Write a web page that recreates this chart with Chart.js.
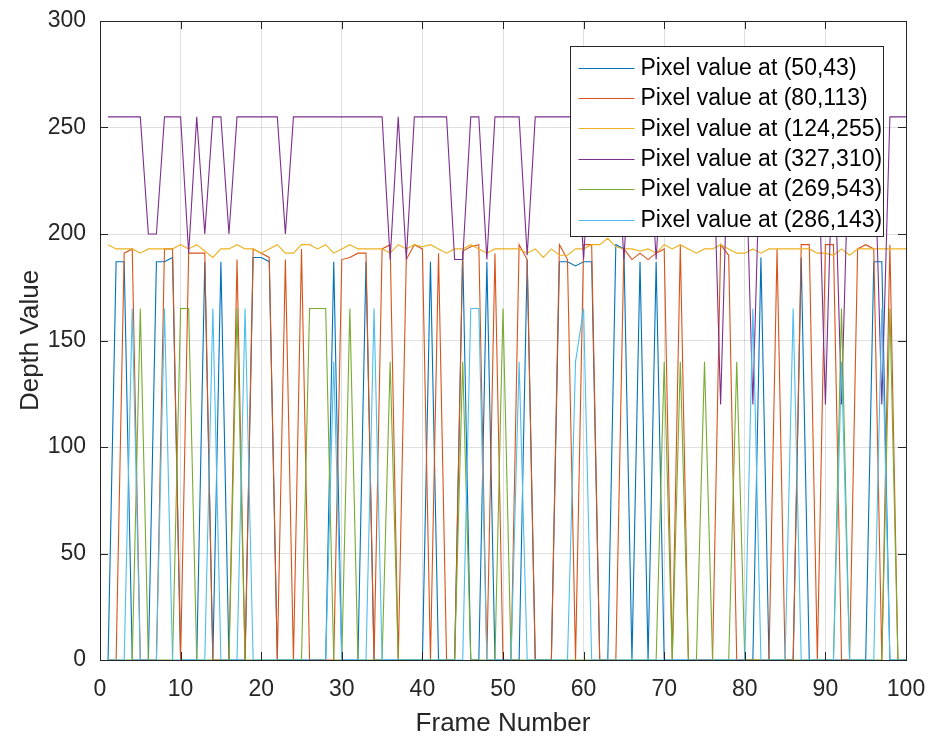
<!DOCTYPE html>
<html>
<head>
<meta charset="utf-8">
<script src="https://cdn.jsdelivr.net/npm/chart.js@4.4.1/dist/chart.umd.min.js"></script>
<style>
  html, body { margin: 0; padding: 0; background: #fff; }
  #wrap { width: 932px; height: 741px; }
</style>
</head>
<body>
<div id="wrap"><canvas id="myChart" width="932" height="741"></canvas></div>
<script>
// data --------------------------------------------------
const frames = [1,2,3,4,5,6,7,8,9,10,11,12,13,14,15,16,17,18,19,20,
  21,22,23,24,25,26,27,28,29,30,31,32,33,34,35,36,37,38,39,40,
  41,42,43,44,45,46,47,48,49,50,51,52,53,54,55,56,57,58,59,60,
  61,62,63,64,65,66,67,68,69,70,71,72,73,74,75,76,77,78,79,80,
  81,82,83,84,85,86,87,88,89,90,91,92,93,94,95,96,97,98,99,100];

const seriesNames = ['Pixel value at (50,43)', 'Pixel value at (80,113)', 'Pixel value at (124,255)',
  'Pixel value at (327,310)', 'Pixel value at (269,543)', 'Pixel value at (286,143)'];
const seriesColors = ['#0072BD', '#D95319', '#EDB120', '#7E2F8E', '#77AC30', '#4DBEEE'];

const px50_43 = [0,187,187,0,0,0,187,187,189,0,
  0,0,187,0,187,0,0,0,189,189,
  187,0,0,0,0,0,0,0,187,0,
  0,0,187,0,0,0,0,0,0,0,
  187,0,0,0,192,0,0,187,0,0,
  0,0,188,0,0,0,187,187,185,187,
  187,0,0,195,193,0,187,0,187,0,
  0,0,0,0,0,0,0,0,0,0,
  0,189,0,0,0,0,189,0,0,0,
  0,0,0,0,0,187,187,0,0,0];

const px80_113 = [0,0,191,193,0,0,0,193,193,0,
  191,191,191,0,0,0,188,0,193,191,
  189,0,188,0,193,0,0,0,0,188,
  189,191,191,0,193,195,0,188,195,193,
  0,191,0,0,192,194,195,0,191,0,
  0,195,188,0,0,0,195,188,0,195,
  195,0,0,0,193,188,191,188,191,193,
  0,195,0,0,0,0,195,190,0,0,
  0,0,0,193,0,0,195,195,0,195,
  195,0,0,193,195,193,0,195,0,0];

const px124_255 = [195,193,193,193,191,193,193,193,193,195,
  193,195,192,189,193,193,195,193,193,191,
  193,195,191,191,195,195,193,195,191,193,
  195,193,193,193,193,191,195,193,195,194,
  195,193,191,193,193,195,193,191,193,193,
  193,193,191,193,189,193,190,190,193,193,
  195,195,198,194,193,193,192,193,191,195,
  193,195,193,191,193,193,195,193,191,191,
  193,191,193,193,193,193,193,193,191,191,
  190,193,190,193,193,193,193,193,193,193];

const px327_310 = [255,255,255,255,255,200,200,255,255,255,
  191,255,200,255,255,200,255,255,255,255,
  255,255,200,255,255,255,255,255,255,255,
  255,255,255,255,255,188,255,188,255,255,
  255,255,255,188,188,255,255,188,255,255,
  255,255,190,255,255,255,255,255,255,188,
  255,255,255,255,188,255,255,255,188,255,
  255,255,255,255,255,255,120,255,255,255,
  120,255,255,255,255,255,255,255,255,120,
  255,120,255,255,255,255,120,255,255,255];

const px269_543 = [0,0,0,0,165,0,0,0,0,165,
  165,0,0,0,0,0,165,0,0,0,
  0,0,0,0,0,165,165,165,0,0,
  165,0,0,0,0,140,0,0,0,0,
  0,0,0,0,140,0,0,0,0,165,
  0,0,0,0,0,0,0,0,0,0,
  0,0,0,0,0,0,0,0,0,140,
  0,140,0,0,140,0,0,0,140,0,
  0,0,0,0,0,0,0,0,0,0,
  0,165,0,0,0,0,0,165,0,0];

const px286_143 = [0,0,0,165,0,0,0,165,0,0,
  0,0,0,165,0,0,0,165,0,0,
  0,0,0,0,0,0,0,0,140,0,
  0,0,0,165,0,0,0,0,0,0,
  0,0,0,0,0,165,165,0,0,0,
  0,140,0,0,0,0,0,0,140,165,
  0,0,0,0,0,0,0,0,0,0,
  0,0,0,0,0,0,0,0,0,0,
  165,0,0,0,0,165,0,0,0,0,
  0,140,0,0,0,0,165,0,0,0];

const xTicks = [0, 10, 20, 30, 40, 50, 60, 70, 80, 90, 100];
const yTicks = [0, 50, 100, 150, 200, 250, 300];

const allSeries = [px50_43, px80_113, px124_255, px327_310, px269_543, px286_143];

// style -------------------------------------------------
const FONT = '"Liberation Sans", Arial, Helvetica, sans-serif';
const INK = '#262626';

// inward ticks + axes box, like matlab's box on
const boxPlugin = {
  id: 'box',
  afterDatasetsDraw(chart) {
    const ctx = chart.ctx;
    const a = chart.chartArea;
    const xs = chart.scales.x, ys = chart.scales.y;
    const tl = 8;
    ctx.save();
    ctx.strokeStyle = INK;
    ctx.lineWidth = 1;
    ctx.beginPath();
    xTicks.forEach(v => {
      const p = Math.round(xs.getPixelForValue(v)) + 0.5;
      ctx.moveTo(p, a.bottom); ctx.lineTo(p, a.bottom - tl);
      ctx.moveTo(p, a.top); ctx.lineTo(p, a.top + tl);
    });
    yTicks.forEach(v => {
      const p = Math.round(ys.getPixelForValue(v)) + 0.5;
      ctx.moveTo(a.left, p); ctx.lineTo(a.left + tl, p);
      ctx.moveTo(a.right, p); ctx.lineTo(a.right - tl, p);
    });
    ctx.stroke();
    ctx.strokeRect(Math.round(a.left) + 0.5, Math.round(a.top) + 0.5,
      Math.round(a.right - a.left), Math.round(a.bottom - a.top));

    // legend box sits over the lines
    const lw = 313, lh = 190;
    const lx = Math.round(a.right) - 23 - lw + 0.5;
    const ly = Math.round(a.top) + 25 + 0.5;
    ctx.fillStyle = '#fff';
    ctx.fillRect(lx, ly, lw, lh);
    ctx.strokeStyle = INK;
    ctx.strokeRect(lx, ly, lw, lh);
    ctx.font = '23px ' + FONT;
    ctx.textBaseline = 'middle';
    ctx.textAlign = 'left';
    chart.data.datasets.forEach((ds, i) => {
      const ry = ly + 21 + i * 30.4;
      ctx.strokeStyle = ds.borderColor;
      ctx.lineWidth = 1.2;
      ctx.beginPath();
      ctx.moveTo(lx + 8, Math.round(ry) + 0.5);
      ctx.lineTo(lx + 64, Math.round(ry) + 0.5);
      ctx.stroke();
      ctx.fillStyle = '#000';
      ctx.fillText(ds.label, lx + 70, ry + 1);
    });
    ctx.restore();
  }
};

const datasets = allSeries.map((vals, i) => ({
  label: seriesNames[i],
  data: vals,
  borderColor: seriesColors[i],
  backgroundColor: seriesColors[i],
  borderWidth: 1.1,
  pointRadius: 0,
  tension: 0,
  fill: false,
  order: 6 - i
}));

const config = {
  type: 'line',
  data: { labels: frames, datasets },
  options: {
    responsive: false,
    animation: false,
    layout: { padding: { left: 0, right: 26, top: 21, bottom: 0 } },
    plugins: {
      legend: { display: false },
      tooltip: { enabled: false }
    },
    scales: {
      x: {
        type: 'linear',
        min: 0, max: 100,
        afterFit(s) { s.height = 81; s.paddingLeft = 0; s.paddingRight = 0; },
        afterBuildTicks(s) { s.ticks = xTicks.map(v => ({ value: v })); },
        grid: { color: 'rgba(38,38,38,0.15)', drawTicks: false },
        border: { display: false },
        ticks: { color: INK, padding: 16, maxRotation: 0, font: { family: FONT, size: 23 } },
        title: { display: true, text: 'Frame Number', color: INK,
          padding: { top: 0, bottom: 2 }, font: { family: FONT, size: 26 } }
      },
      y: {
        min: 0, max: 300,
        afterFit(s) { s.width = 100; s.paddingTop = 0; s.paddingBottom = 0; },
        afterBuildTicks(s) { s.ticks = yTicks.map(v => ({ value: v })); },
        grid: { color: 'rgba(38,38,38,0.15)', drawTicks: false },
        border: { display: false },
        ticks: { color: INK, padding: 14, font: { family: FONT, size: 23 } },
        title: { display: true, text: 'Depth Value', color: INK,
          padding: { top: 15, bottom: 0 }, font: { family: FONT, size: 26 } }
      }
    }
  },
  plugins: [boxPlugin]
};

const myChart = new Chart(document.getElementById('myChart'), config);
</script>
</body>
</html>
